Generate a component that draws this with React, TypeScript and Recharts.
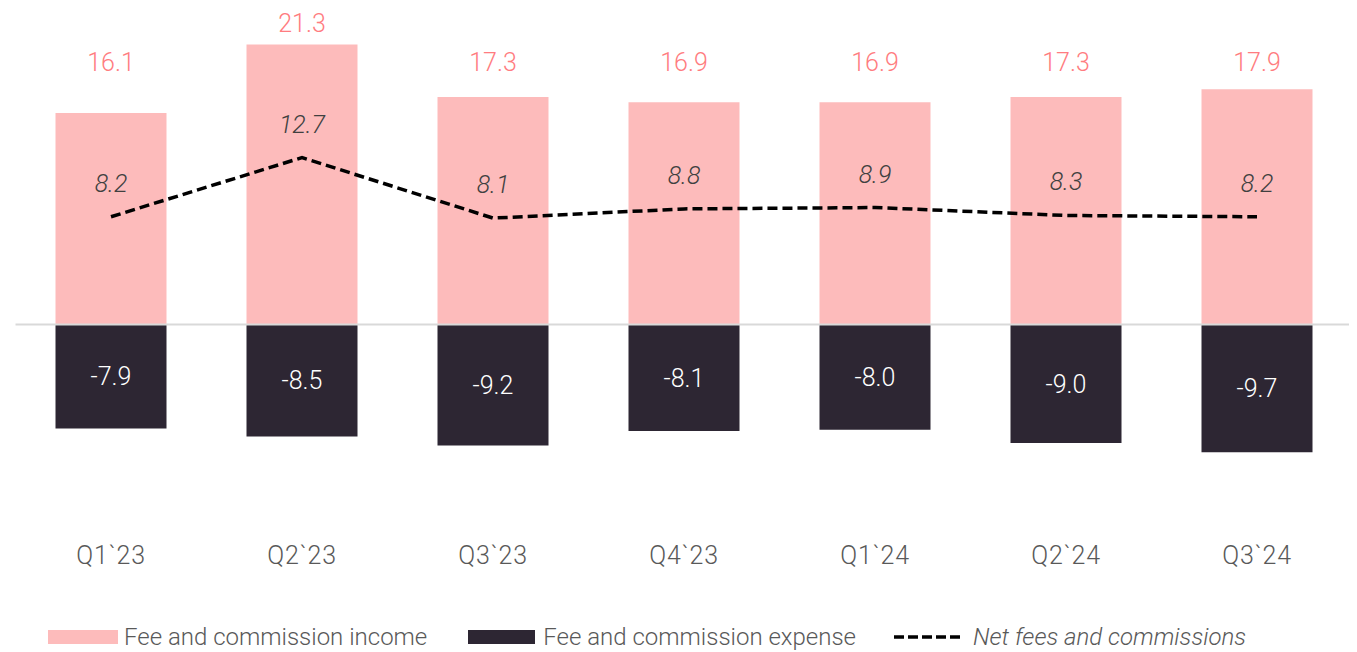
import React from "react";
import {
  ComposedChart,
  Bar,
  Line,
  XAxis,
  YAxis,
  ReferenceLine,
  LabelList,
  Legend,
} from "recharts";

const categories = ["Q1`23", "Q2`23", "Q3`23", "Q4`23", "Q1`24", "Q2`24", "Q3`24"];
const incomeValues = [16.1, 21.3, 17.3, 16.9, 16.9, 17.3, 17.9];
const expenseValues = [-7.9, -8.5, -9.2, -8.1, -8.0, -9.0, -9.7];
const netValues = [8.2, 12.7, 8.1, 8.8, 8.9, 8.3, 8.2];

const seriesNames = {
  income: "Fee and commission income",
  expense: "Fee and commission expense",
  net: "Net fees and commissions",
};

const data = categories.map((q, i) => ({
  q,
  income: incomeValues[i],
  expense: expenseValues[i],
  net: netValues[i],
}));

const PINK = "#FDBBBB";
const DARK = "#2D2633";
const SALMON = "#FF7C80";
const GREY = "#595959";
const FONT = "Roboto, 'Noto Sans', sans-serif";
const LABEL_SIZE = 25;

const fmt = (v: any) => Number(v).toFixed(1);

// Income labels sit on a common row above the bars, but never closer than
// a small gap to the top of a bar that rises above that row.
const INCOME_ROW_BASELINE = 62.5;
const INCOME_MIN_GAP = 13;

const IncomeLabel = (props: any) => {
  const { x, y, width, value } = props;
  const baseline = Math.min(y - INCOME_MIN_GAP, INCOME_ROW_BASELINE);
  return (
    <text
      x={x + width / 2}
      y={baseline}
      textAnchor="middle"
      fill={SALMON}
      fontSize={LABEL_SIZE}
      fontWeight={300}
      fontFamily={FONT}
    >
      {fmt(value)}
    </text>
  );
};

const LegendContent = () => {
  const text: React.CSSProperties = {
    fontFamily: FONT,
    fontSize: 24,
    fontWeight: 300,
    color: GREY,
    whiteSpace: "nowrap",
  };
  return (
    <div style={{ display: "flex", alignItems: "center", height: 30 }}>
      <svg width={70} height={14} style={{ marginRight: 6 }}>
        <rect x={0} y={0} width={70} height={14} fill={PINK} />
      </svg>
      <span style={text}>{seriesNames.income}</span>
      <svg width={67} height={14} style={{ marginLeft: 41, marginRight: 8 }}>
        <rect x={0} y={0} width={67} height={14} fill={DARK} />
      </svg>
      <span style={text}>{seriesNames.expense}</span>
      <svg width={67} height={14} style={{ marginLeft: 38, marginRight: 12 }}>
        <line x1={0} y1={7} x2={67} y2={7} stroke="#000" strokeWidth={3.5} strokeDasharray="10 4" />
      </svg>
      <span style={{ ...text, fontStyle: "italic" }}>{seriesNames.net}</span>
    </div>
  );
};

export default function App() {
  return (
    <ComposedChart
      width={1349}
      height={644}
      data={data}
      stackOffset="sign"
      margin={{ top: 1, right: 4.5, left: 7.5, bottom: 47 }}
    >
      <XAxis
        dataKey="q"
        axisLine={false}
        tickLine={false}
        height={40}
        tickMargin={5}
        tick={{ fill: GREY, fontSize: 25, fontFamily: FONT, fontWeight: 300, letterSpacing: 0.8 }}
        interval={0}
      />
      <YAxis hide domain={[-16, 24]} allowDataOverflow />
      <ReferenceLine y={0} stroke="#D9D9D9" strokeWidth={2} />
      <Bar
        dataKey="income"
        name={seriesNames.income}
        stackId="s"
        fill={PINK}
        barSize={111}
        isAnimationActive={false}
      >
        <LabelList dataKey="income" content={<IncomeLabel />} />
      </Bar>
      <Bar
        dataKey="expense"
        name={seriesNames.expense}
        stackId="s"
        fill={DARK}
        barSize={111}
        isAnimationActive={false}
      >
        <LabelList
          dataKey="expense"
          position="center"
          formatter={fmt}
          fill="#FFFFFF"
          fontSize={LABEL_SIZE}
          fontWeight={300}
          fontFamily={FONT}
        />
      </Bar>
      <Line
        dataKey="net"
        name={seriesNames.net}
        type="linear"
        stroke="#000000"
        strokeWidth={3.5}
        strokeDasharray="10 5"
        dot={false}
        activeDot={false}
        isAnimationActive={false}
      >
        <LabelList
          dataKey="net"
          position="top"
          offset={25}
          formatter={fmt}
          fill="#404040"
          fontSize={LABEL_SIZE}
          fontWeight={300}
          fontStyle="italic"
          fontFamily={FONT}
        />
      </Line>
      <Legend
        verticalAlign="bottom"
        content={<LegendContent />}
        wrapperStyle={{ left: 40, bottom: 0, width: 1300, height: 30 }}
      />
    </ComposedChart>
  );
}
